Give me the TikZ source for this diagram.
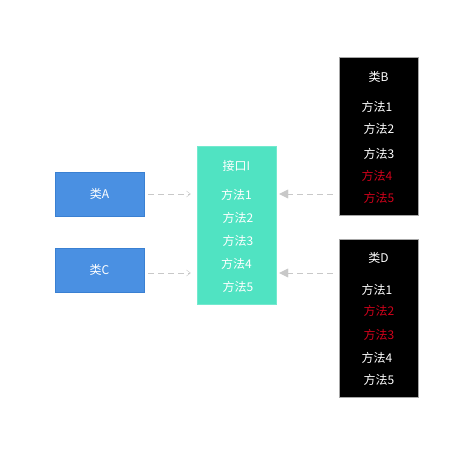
\documentclass[tikz,border=0pt]{standalone}
\usepackage{fontspec}
\setmainfont{Noto Sans CJK SC}
\usetikzlibrary{arrows.meta}
\definecolor{clsblue}{HTML}{4A90E2}
\definecolor{clsblueline}{HTML}{3A80D2}
\definecolor{ifgreen}{HTML}{50E3C2}
\definecolor{methred}{HTML}{D0021B}
\definecolor{linkgray}{HTML}{C8C8C8}
\begin{document}
\begin{tikzpicture}[
    x=1pt, y=-1pt,
    cls/.style={draw=clsblueline, fill=clsblue, minimum width=89pt, minimum height=44pt, inner sep=0pt, text=white, font=\fontsize{12}{14}\selectfont},
    block/.style={draw=#1, minimum width=79pt, minimum height=158pt, inner sep=0pt},
    meth/.style={text=white, inner sep=0pt, font=\fontsize{12}{14}\selectfont},
    impl/.style={dashed, dash pattern=on 6pt off 4pt, draw=linkgray, thin, -{Straight Barb[length=4pt,width=6pt]}},
    use/.style={dashed, dash pattern=on 6pt off 4pt, draw=linkgray, thin, -{Triangle[length=9pt,width=9pt,fill=linkgray]}}
]
    \useasboundingbox (0,0) rectangle (473,456);

    % left classes
    \node[cls] (clsA) at (99.5,194) {类A};
    \node[cls] (clsC) at (99.5,270) {类C};

    % interface
    \node[block=ifgreen!80!white, fill=ifgreen] (iface) at (236.5,225) {};
    \node[meth] (ifname) at (236.5,166) {接口I};
    \node[meth] (if1) at (236.5,195) {方法1};
    \node[meth] (if2) at (238,218) {方法2};
    \node[meth] (if3) at (238,241) {方法3};
    \node[meth] (if4) at (236.5,264) {方法4};
    \node[meth] (if5) at (238,287) {方法5};

    % class B
    \node[block=gray!70, fill=black] (clsB) at (378.5,136.5) {};
    \node[meth] (bname) at (378.5,77) {类B};
    \node[meth] (b1) at (377,107) {方法1};
    \node[meth] (b2) at (379,129) {方法2};
    \node[meth] (b3) at (379,154) {方法3};
    \node[meth, text=methred] (b4) at (377,176) {方法4};
    \node[meth, text=methred] (b5) at (379,198) {方法5};

    % class D
    \node[block=gray!70, fill=black] (clsD) at (378.5,318) {};
    \node[meth] (dname) at (378.5,258) {类D};
    \node[meth] (d1) at (377,290) {方法1};
    \node[meth, text=methred] (d2) at (379,311) {方法2};
    \node[meth, text=methred] (d3) at (379,335) {方法3};
    \node[meth] (d4) at (377,358) {方法4};
    \node[meth] (d5) at (379,380) {方法5};

    % links
    \draw[impl] ([xshift=4pt]clsA.east) -- ([xshift=-6pt]clsA.east -| iface.west);
    \draw[impl] ([xshift=4pt,yshift=-3pt]clsC.east) -- ([xshift=-6pt,yshift=-3pt]clsC.east -| iface.west);
    \draw[use] ([xshift=-6pt]clsB.west |- clsA.east) -- ([xshift=3pt]iface.east |- clsA.east);
    \draw[use] ([xshift=-6pt,yshift=-3pt]clsD.west |- clsC.east) -- ([xshift=3pt,yshift=-3pt]iface.east |- clsC.east);
\end{tikzpicture}
\end{document}
